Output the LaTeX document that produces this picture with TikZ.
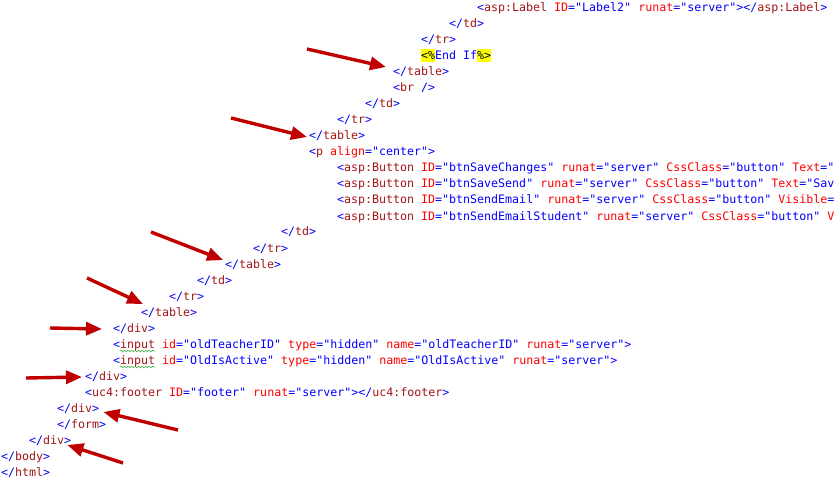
\documentclass[tikz,border=0pt]{standalone}
\usepackage{fontspec}
\usepackage{xcolor}
\usepackage{tikz}
\usetikzlibrary{arrows.meta,decorations.pathmorphing}
\setmonofont{DejaVu Sans Mono}

\definecolor{cblue}{RGB}{0,0,255}
\definecolor{cmaroon}{RGB}{163,21,21}
\definecolor{cred}{RGB}{255,0,0}
\definecolor{hlyellow}{RGB}{255,255,0}
\definecolor{arrowred}{RGB}{192,0,0}
\definecolor{squiggly}{RGB}{60,170,60}

\newcommand\ob{\textcolor{cblue}{<}}
\newcommand\cb{\textcolor{cblue}{>}}
\newcommand\el[1]{\textcolor{cmaroon}{#1}}
\newcommand\ctag[1]{\textcolor{cblue}{</}\el{#1}\textcolor{cblue}{>}}
\newcommand\attr[2]{\textcolor{cred}{#1}\textcolor{cblue}{="#2"}}
\newcommand\hlbox[1]{{\setlength\fboxsep{0pt}\colorbox{hlyellow}{\rule[-2.5pt]{0pt}{13pt}#1}}}

\tikzset{
    code/.style={anchor=base west, inner sep=0pt,
        font=\ttfamily\fontsize{11.63pt}{16pt}\selectfont},
    marker/.style={draw=arrowred, line width=3.4pt,
        -{Triangle[length=16pt,width=13pt]}},
    squiggle/.style={draw=squiggly, line width=0.6pt,
        decorate, decoration={snake, amplitude=0.9pt, segment length=3.5pt}}
}

\begin{document}
\begin{tikzpicture}[x=1pt,y=-1pt]
    \useasboundingbox (0,0) rectangle (834,478);
    \fill[white] (0,0) rectangle (834,478);
    \clip (0,0) rectangle (834,478);

    % source lines
    \node[code] (l1) at (477,12) {\ob\el{asp:Label} \attr{ID}{Label2} \attr{runat}{server}\cb\ctag{asp:Label}};
    \node[code] (l2) at (449,28) {\ctag{td}};
    \node[code] (l3) at (421,44) {\ctag{tr}};
    \node[code] (l4) at (421,60) {\hlbox{<\%}\textcolor{cblue}{End If}\hlbox{\%>}};
    \node[code] (l5) at (393,76) {\ctag{table}};
    \node[code] (l6) at (393,92) {\ob\el{br} \textcolor{cblue}{/>}};
    \node[code] (l7) at (365,108) {\ctag{td}};
    \node[code] (l8) at (337,124) {\ctag{tr}};
    \node[code] (l9) at (309,140) {\ctag{table}};
    \node[code] (l10) at (309,156) {\ob\el{p} \attr{align}{center}\cb};
    \node[code] (l11) at (337,172) {\ob\el{asp:Button} \attr{ID}{btnSaveChanges} \attr{runat}{server} \attr{CssClass}{button} \textcolor{cred}{Text}\textcolor{cblue}{="S}};
    \node[code] (l12) at (337,188) {\ob\el{asp:Button} \attr{ID}{btnSaveSend} \attr{runat}{server} \attr{CssClass}{button} \textcolor{cred}{Text}\textcolor{cblue}{="Save}};
    \node[code] (l13) at (337,204) {\ob\el{asp:Button} \attr{ID}{btnSendEmail} \attr{runat}{server} \attr{CssClass}{button} \textcolor{cred}{Visible}\textcolor{cblue}{="}};
    \node[code] (l14) at (337,220) {\ob\el{asp:Button} \attr{ID}{btnSendEmailStudent} \attr{runat}{server} \attr{CssClass}{button} \textcolor{cred}{Vi}};
    \node[code] (l15) at (281,236) {\ctag{td}};
    \node[code] (l16) at (253,252) {\ctag{tr}};
    \node[code] (l17) at (225,268) {\ctag{table}};
    \node[code] (l18) at (197,284) {\ctag{td}};
    \node[code] (l19) at (169,300) {\ctag{tr}};
    \node[code] (l20) at (141,316) {\ctag{table}};
    \node[code] (l21) at (113,332) {\ctag{div}};
    \node[code] (l22) at (113,348) {\ob\el{input} \attr{id}{oldTeacherID} \attr{type}{hidden} \attr{name}{oldTeacherID} \attr{runat}{server}\cb};
    \node[code] (l23) at (113,364) {\ob\el{input} \attr{id}{OldIsActive} \attr{type}{hidden} \attr{name}{OldIsActive} \attr{runat}{server}\cb};
    \node[code] (l24) at (85,380) {\ctag{div}};
    \node[code] (l25) at (85,396) {\ob\el{uc4:footer} \attr{ID}{footer} \attr{runat}{server}\cb\ctag{uc4:footer}};
    \node[code] (l26) at (57,412) {\ctag{div}};
    \node[code] (l27) at (57,428) {\ctag{form}};
    \node[code] (l28) at (29,444) {\ctag{div}};
    \node[code] (l29) at (1,460) {\ctag{body}};
    \node[code] (l30) at (1,476) {\ctag{html}};

    % spell-check marks
    \draw[squiggle] ([xshift=7pt,yshift=-3pt]l22.base west) -- ++(35,0);
    \draw[squiggle] ([xshift=7pt,yshift=-3pt]l23.base west) -- ++(35,0);

    % arrow tails
    \coordinate (s1) at (307,49);
    \coordinate (s2) at (231,118);
    \coordinate (s3) at (151,232);
    \coordinate (s4) at (87,278);
    \coordinate (s5) at (50,328);
    \coordinate (s6) at (26,378);
    \coordinate (s7) at (178,430);
    \coordinate (s8) at (123,463);

    \draw[marker] (s1) -- ([xshift=-7pt,yshift=9pt]l5.base west);
    \draw[marker] (s2) -- ([xshift=-2pt,yshift=3pt]l9.base west);
    \draw[marker] (s3) -- ([xshift=-2pt,yshift=8pt]l17.base west);
    \draw[marker] (s4) -- ([xshift=2pt,yshift=12pt]l20.base west);
    \draw[marker] (s5) -- ([xshift=-11pt,yshift=3pt]l21.base west);
    \draw[marker] (s6) -- ([xshift=-3pt,yshift=3pt]l24.base west);
    \draw[marker] (s7) -- ([xshift=4pt]l26.base east);
    \draw[marker] (s8) -- ([xshift=-4pt,yshift=-1pt]l28.base east);
\end{tikzpicture}
\end{document}
